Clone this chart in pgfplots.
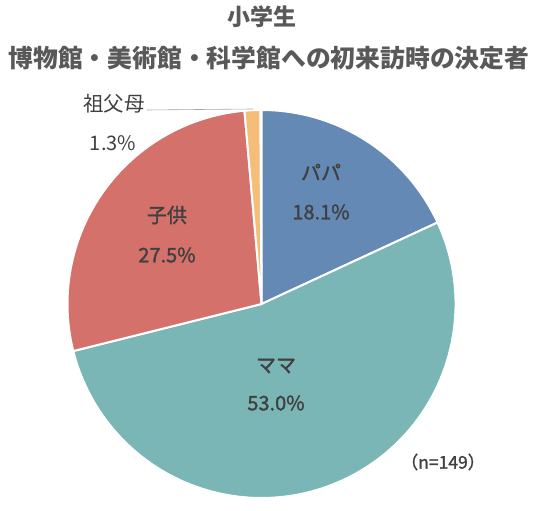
\documentclass[border=0pt]{standalone}
\usepackage{pgfplots}
\usepackage{pgfplotstable}
\pgfplotsset{compat=1.18}
\usepackage{fontspec}
\setmainfont{Noto Sans CJK JP}
\newfontfamily\medfont[FakeBold=1.5]{Noto Sans CJK JP}

\definecolor{cPapa}{HTML}{6589B5}
\definecolor{cMama}{HTML}{7AB6B5}
\definecolor{cKodomo}{HTML}{D4716B}
\definecolor{cSofubo}{HTML}{F4BE78}
\definecolor{txt}{HTML}{404040}
\definecolor{ttl}{HTML}{595959}

% share of each decision maker, percent
\pgfplotstableread{
label value
papa 18.1
mama 53.0
kodomo 27.5
sofubo 1.3
}\piedata

\pgfplotstablegetelem{0}{value}\of\piedata \let\vA\pgfplotsretval
\pgfplotstablegetelem{1}{value}\of\piedata \let\vB\pgfplotsretval
\pgfplotstablegetelem{2}{value}\of\piedata \let\vC\pgfplotsretval
\pgfplotstablegetelem{3}{value}\of\piedata \let\vD\pgfplotsretval
% clockwise from twelve o'clock
\pgfmathsetmacro\aA{90-3.6*\vA}
\pgfmathsetmacro\aB{\aA-3.6*\vB}
\pgfmathsetmacro\aC{\aB-3.6*\vC}
\pgfmathsetmacro\aD{\aC-3.6*\vD}
\newcommand\pct[1]{\pgfmathprintnumber[fixed,fixed zerofill,precision=1,assume math mode=true]{#1}\%}

\begin{document}
\begin{tikzpicture}
\begin{axis}[
  x=1pt, y=1pt,
  xmin=0, xmax=536, ymin=0, ymax=505,
  hide axis, clip=false,
]
\path (axis cs:0,0) rectangle (axis cs:536,505);
% wedges
\fill[cPapa, draw=white, line width=2pt] (axis cs:261.5,201) -- ++(90:194pt)
  arc[start angle=90, end angle=\aA, radius=194pt] -- cycle;
\fill[cMama, draw=white, line width=2pt] (axis cs:261.5,201) -- ++(\aA:194pt)
  arc[start angle=\aA, end angle=\aB, radius=194pt] -- cycle;
\fill[cKodomo, draw=white, line width=2pt] (axis cs:261.5,201) -- ++(\aB:194pt)
  arc[start angle=\aB, end angle=\aC, radius=194pt] -- cycle;
\fill[cSofubo, draw=white, line width=2pt] (axis cs:261.5,201) -- ++(\aC:194pt)
  arc[start angle=\aC, end angle=\aD, radius=194pt] -- cycle;

% titles
\node[ttl, font=\fontsize{23}{26}\selectfont\bfseries] at (axis cs:262,488) {小学生};
\node[ttl, font=\fontsize{24.8}{28}\selectfont\bfseries] at (axis cs:269,447) {博物館・美術館・科学館への初来訪時の決定者};

% slice labels
\begin{scope}[every node/.style={txt, font=\fontsize{20}{23}\selectfont\medfont}]
\node at (axis cs:321,333) {パパ};
\node at (axis cs:321,293) {\pct{\vA}};
\node at (axis cs:276,139) {ママ};
\node at (axis cs:276,102) {\pct{\vB}};
\node at (axis cs:167,290) {子供};
\node at (axis cs:167,250) {\pct{\vC}};
\end{scope}
\node[txt, font=\fontsize{20.5}{24}\selectfont] at (axis cs:114,401) {祖父母};
\node[txt, font=\fontsize{20}{24}\selectfont] at (axis cs:113,362) {\pct{\vD}};
\draw[gray!70, line width=0.6pt] (axis cs:147,395) -- (axis cs:253,396);
\node[txt, font=\fontsize{17.5}{20}\selectfont\medfont] at (axis cs:443,43) {（n=149）};
\end{axis}
\end{tikzpicture}
\end{document}
